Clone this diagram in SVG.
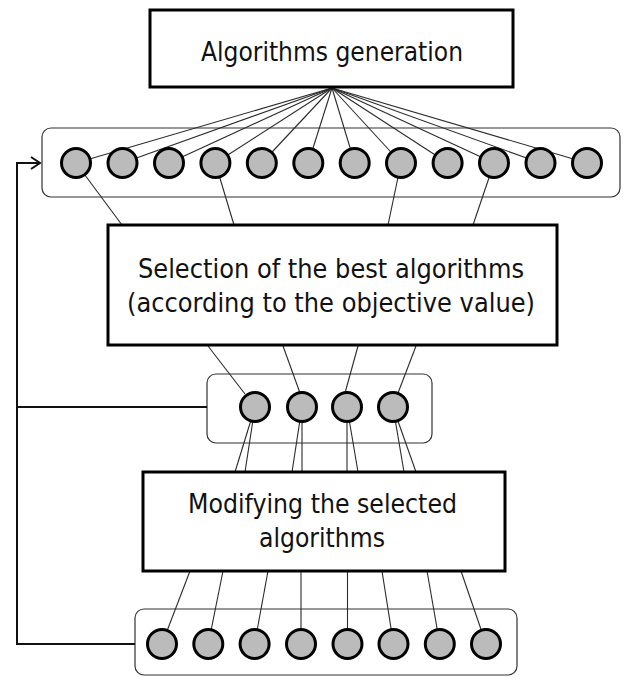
<svg xmlns="http://www.w3.org/2000/svg" width="623" height="677" viewBox="0 0 623 677">
<style>
.box{fill:#fff;stroke:#000;stroke-width:3}
.frame{fill:#fff;stroke:#333;stroke-width:1.2}
.dot{fill:#bbbbbb;stroke:#000;stroke-width:3}
.con{stroke:#2a2a2a;stroke-width:1.1;fill:none}
.fb{stroke:#111;stroke-width:2;fill:none}
.lbl{font-family:"DejaVu Sans","Noto Sans",sans-serif;font-size:26px;fill:#111}
</style>
<defs>
<marker id="chev" markerUnits="userSpaceOnUse" markerWidth="14" markerHeight="16" refX="10" refY="7" orient="auto">
<path d="M1,1 L10,7 L1,13" fill="none" stroke="#111" stroke-width="2"/>
</marker>
</defs>
<rect width="623" height="677" fill="#fff"/>

<g id="frame-generated"><rect class="frame" x="42" y="128" width="578" height="69" rx="9"/></g>
<g id="frame-selected"><rect class="frame" x="207" y="374" width="225" height="69" rx="9"/></g>
<g id="frame-modified"><rect class="frame" x="135" y="609" width="382" height="66" rx="9"/></g>

<g id="connectors">
<line class="con" x1="332" y1="88" x2="76" y2="163"/>
<line class="con" x1="332" y1="88" x2="122.5" y2="163"/>
<line class="con" x1="332" y1="88" x2="169" y2="163"/>
<line class="con" x1="332" y1="88" x2="215.4" y2="163"/>
<line class="con" x1="332" y1="88" x2="261.8" y2="163"/>
<line class="con" x1="332" y1="88" x2="308.3" y2="163"/>
<line class="con" x1="332" y1="88" x2="354.7" y2="163"/>
<line class="con" x1="332" y1="88" x2="401" y2="163"/>
<line class="con" x1="332" y1="88" x2="447.6" y2="163"/>
<line class="con" x1="332" y1="88" x2="494" y2="163"/>
<line class="con" x1="332" y1="88" x2="540.5" y2="163"/>
<line class="con" x1="332" y1="88" x2="587" y2="163"/>
<line class="con" x1="76" y1="163" x2="122" y2="225"/>
<line class="con" x1="215.4" y1="163" x2="234" y2="225"/>
<line class="con" x1="401" y1="163" x2="388" y2="225"/>
<line class="con" x1="494" y1="163" x2="473" y2="225"/>
<line class="con" x1="208" y1="346" x2="245" y2="394"/>
<line class="con" x1="283" y1="346" x2="300" y2="393"/>
<line class="con" x1="358" y1="346" x2="345" y2="393"/>
<line class="con" x1="416" y1="346" x2="398" y2="393"/>
<line class="con" x1="255" y1="407" x2="235" y2="472"/>
<line class="con" x1="255" y1="407" x2="245" y2="472"/>
<line class="con" x1="302" y1="407" x2="292" y2="472"/>
<line class="con" x1="302" y1="407" x2="302" y2="472"/>
<line class="con" x1="347" y1="407" x2="347" y2="472"/>
<line class="con" x1="347" y1="407" x2="358" y2="472"/>
<line class="con" x1="393" y1="407" x2="404" y2="472"/>
<line class="con" x1="393" y1="407" x2="416" y2="472"/>
<line class="con" x1="190" y1="571" x2="162" y2="644"/>
<line class="con" x1="223" y1="571" x2="208.3" y2="644"/>
<line class="con" x1="268" y1="571" x2="254.6" y2="644"/>
<line class="con" x1="301" y1="571" x2="301" y2="644"/>
<line class="con" x1="347.5" y1="571" x2="347.5" y2="644"/>
<line class="con" x1="382" y1="571" x2="393.5" y2="644"/>
<line class="con" x1="427" y1="571" x2="439.8" y2="644"/>
<line class="con" x1="461" y1="571" x2="486" y2="644"/>
<path class="fb" d="M135,644 H17 V163 H40" marker-end="url(#chev)"/>
<path class="fb" d="M207,407 H17"/>
</g>

<g id="generated-algorithms">
<circle class="dot" cx="76" cy="163" r="14.5"/>
<circle class="dot" cx="122.5" cy="163" r="14.5"/>
<circle class="dot" cx="169" cy="163" r="14.5"/>
<circle class="dot" cx="215.4" cy="163" r="14.5"/>
<circle class="dot" cx="261.8" cy="163" r="14.5"/>
<circle class="dot" cx="308.3" cy="163" r="14.5"/>
<circle class="dot" cx="354.7" cy="163" r="14.5"/>
<circle class="dot" cx="401" cy="163" r="14.5"/>
<circle class="dot" cx="447.6" cy="163" r="14.5"/>
<circle class="dot" cx="494" cy="163" r="14.5"/>
<circle class="dot" cx="540.5" cy="163" r="14.5"/>
<circle class="dot" cx="587" cy="163" r="14.5"/>
</g>
<g id="selected-algorithms">
<circle class="dot" cx="255" cy="407" r="14.5"/>
<circle class="dot" cx="302" cy="407" r="14.5"/>
<circle class="dot" cx="347" cy="407" r="14.5"/>
<circle class="dot" cx="393" cy="407" r="14.5"/>
</g>
<g id="modified-algorithms">
<circle class="dot" cx="162" cy="644" r="14.5"/>
<circle class="dot" cx="208.3" cy="644" r="14.5"/>
<circle class="dot" cx="254.6" cy="644" r="14.5"/>
<circle class="dot" cx="301" cy="644" r="14.5"/>
<circle class="dot" cx="347.5" cy="644" r="14.5"/>
<circle class="dot" cx="393.5" cy="644" r="14.5"/>
<circle class="dot" cx="439.8" cy="644" r="14.5"/>
<circle class="dot" cx="486" cy="644" r="14.5"/>
</g>

<g id="algorithms-generation">
<rect class="box" x="150" y="10" width="363" height="77"/>
<text class="lbl" x="201" y="61" textLength="262" lengthAdjust="spacingAndGlyphs">Algorithms generation</text>
</g>
<g id="selection">
<rect class="box" x="108" y="225" width="449" height="120"/>
<text class="lbl" x="138" y="278" textLength="386" lengthAdjust="spacingAndGlyphs">Selection of the best algorithms</text>
<text class="lbl" x="127" y="312" textLength="408" lengthAdjust="spacingAndGlyphs">(according to the objective value)</text>
</g>
<g id="modifying">
<rect class="box" x="143" y="472" width="362" height="99"/>
<text class="lbl" x="188" y="513" textLength="269" lengthAdjust="spacingAndGlyphs">Modifying the selected</text>
<text class="lbl" x="259" y="547" textLength="126" lengthAdjust="spacingAndGlyphs">algorithms</text>
</g>
</svg>
